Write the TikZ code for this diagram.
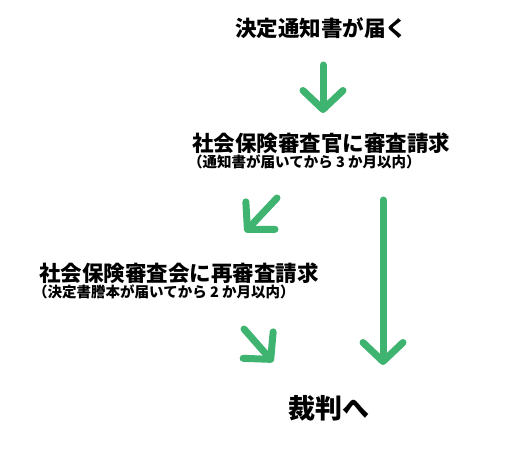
\documentclass[tikz,border=0pt]{standalone}
\usepackage{fontspec}
\newfontfamily\jpfont{Noto Sans CJK JP}
\usetikzlibrary{arrows.meta}
\definecolor{arrowgreen}{RGB}{62,180,112}

\begin{document}
\begin{tikzpicture}[x=1pt, y=-1pt,
        every node/.style={inner sep=0pt},
        bigtext/.style={font=\jpfont\bfseries\fontsize{21.5}{26}\selectfont},
        notetext/.style={font=\jpfont\bfseries\fontsize{14.5}{17}\selectfont},
        greenarrow/.style={draw=arrowgreen, line width=7pt, line cap=round,
            -{Straight Barb[length=19pt, width=40pt, round]}}]
        \useasboundingbox (0,0) rectangle (512,465);

        \node[bigtext] (notice) at (321,28) {決定通知書が届く};
        \node[bigtext, anchor=west] (appeal) at (192,143) {社会保険審査官に審査請求};
        \node[notetext, anchor=west] (appealnote) at (188,162) {（通知書が届いてから 3 か月以内）};
        \node[bigtext, anchor=west] (review) at (39,273) {社会保険審査会に再審査請求};
        \node[notetext, anchor=west] (reviewnote) at (33,292) {（決定書謄本が届いてから 2 か月以内）};
        \node[font=\jpfont\bfseries\fontsize{27}{32}\selectfont] (court) at (329,408) {裁判へ};

        \coordinate (a1s) at (323,65);
        \coordinate (a1e) at (323,113);
        \coordinate (a2s) at (277,198);
        \coordinate (a2e) at (245,232);
        \coordinate (a3s) at (244,329);
        \coordinate (a3e) at (273,362);
        \coordinate (a4s) at (383,200);
        \coordinate (a4e) at (383,365);

        \draw[greenarrow] (a1s) -- (a1e);
        \draw[greenarrow] (a2s) -- (a2e);
        \draw[greenarrow] (a3s) -- (a3e);
        \draw[greenarrow] (a4s) -- (a4e);
\end{tikzpicture}
\end{document}
